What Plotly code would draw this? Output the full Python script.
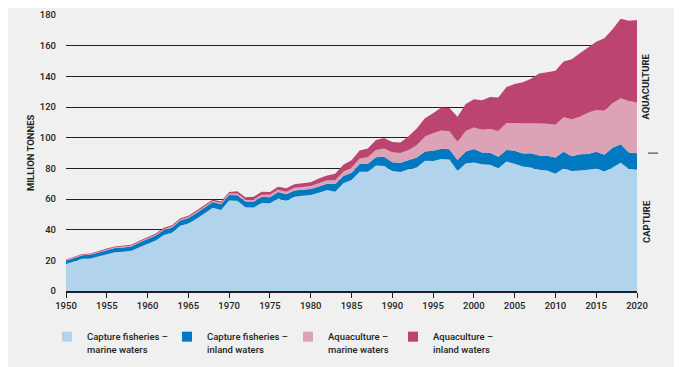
import plotly.graph_objects as go

years = list(range(1950, 2021))

capture_marine = [17.6, 19.3, 21.0, 21.2, 22.7, 24.0, 25.3, 25.6, 26.2, 28.6,
                  30.8, 33.0, 36.5, 38.0, 42.5, 44.0, 47.2, 50.5, 54.3, 52.8,
                  59.0, 58.8, 54.6, 54.4, 57.4, 57.2, 60.4, 58.9, 61.5, 62.2,
                  62.6, 64.1, 65.8, 64.8, 70.2, 72.4, 77.8, 77.8, 81.8, 81.5,
                  78.3, 77.6, 79.4, 80.5, 85.0, 84.8, 86.1, 85.8, 78.5, 83.2,
                  83.8, 82.6, 82.4, 80.0, 84.4, 83.0, 81.2, 80.6, 79.0, 78.6,
                  76.4, 80.0, 78.2, 78.6, 79.0, 80.0, 78.0, 80.6, 83.7, 79.8,
                  79.0]
capture_inland = [2.2, 2.3, 2.3, 2.4, 2.5, 2.6, 2.7, 2.8, 2.8, 3.0,
                  3.0, 3.2, 3.3, 3.4, 3.5, 3.6, 3.7, 3.7, 3.7, 3.8,
                  3.6, 3.7, 3.8, 3.9, 4.0, 4.0, 4.1, 4.2, 4.1, 3.9,
                  3.9, 4.1, 4.2, 5.0, 4.8, 4.8, 5.0, 5.2, 5.4, 6.1,
                  5.7, 6.0, 6.0, 6.5, 6.0, 6.6, 6.7, 6.7, 6.9, 7.8,
                  8.8, 7.8, 7.8, 7.6, 7.6, 8.4, 8.4, 9.2, 9.4, 9.6,
                  10.6, 10.8, 9.6, 10.6, 10.4, 10.8, 10.8, 12.9, 12.0, 10.6,
                  10.9]
aqua_marine = [0.4, 0.4, 0.4, 0.4, 0.5, 0.5, 0.5, 0.5, 0.5, 0.5,
               0.5, 0.5, 0.6, 0.6, 0.6, 0.6, 0.7, 0.7, 0.7, 0.8,
               1.0, 1.1, 1.2, 1.3, 1.4, 1.5, 1.6, 1.7, 1.8, 1.8,
               1.9, 2.1, 2.3, 2.5, 2.8, 3.2, 3.6, 4.2, 4.8, 5.4,
               6.5, 6.4, 6.6, 8.0, 9.7, 11.4, 11.8, 11.7, 12.0, 13.4,
               14.0, 14.8, 15.5, 16.8, 17.6, 18.2, 19.6, 19.6, 21.0, 20.8,
               21.4, 22.5, 24.2, 24.5, 26.9, 27.3, 28.8, 28.9, 30.0, 33.5,
               33.0]
aqua_inland = [0.4, 0.4, 0.4, 0.4, 0.5, 0.6, 0.6, 0.6, 0.6, 0.7,
               0.7, 0.8, 0.8, 0.8, 0.8, 0.8, 0.9, 0.9, 0.9, 0.9,
               1.0, 1.4, 1.6, 1.9, 2.0, 1.9, 1.9, 2.2, 2.2, 2.4,
               2.6, 3.0, 3.1, 4.1, 4.6, 4.8, 5.2, 5.8, 6.4, 6.8,
               6.7, 6.8, 9.0, 11.0, 11.9, 13.2, 15.0, 15.2, 16.3, 17.6,
               18.4, 19.2, 20.9, 21.8, 23.4, 25.4, 27.0, 29.1, 32.4, 33.6,
               35.2, 36.3, 39.1, 41.3, 42.6, 44.5, 47.2, 48.3, 51.9, 52.3,
               53.9]

series_names = ["Capture fisheries –<br>marine waters",
                "Capture fisheries –<br>inland waters",
                "Aquaculture –<br>marine waters",
                "Aquaculture –<br>inland waters"]
colors = ["#B2D3EC", "#0079C0", "#DCA3B6", "#BC4470"]
x_ticks = list(range(1950, 2021, 5))
y_ticks = list(range(0, 181, 20))

FONT = "Roboto, Liberation Sans, sans-serif"
TXT = "#231f20"
W8 = 500

fig = go.Figure()
for vals, color in zip([capture_marine, capture_inland, aqua_marine, aqua_inland], colors):
    fig.add_trace(go.Scatter(x=years, y=vals, stackgroup="one", mode="lines",
                             line=dict(width=0, color=color), fillcolor=color,
                             showlegend=False, hoverinfo="skip"))

legend_ids = ["legend", "legend2", "legend3", "legend4"]
legend_x_px = [47, 167, 288, 393]
for name, color, lid in zip(series_names, colors, legend_ids):
    fig.add_trace(go.Scatter(x=[None], y=[None], mode="markers", name=name,
                             marker=dict(symbol="square", size=10, color=color),
                             legend=lid, showlegend=True))

# page body has an 8px margin: shift the figure so the plot area lands in place
OFF = 8
W, H = 682 - OFF, 367 - OFF
plot_l, plot_r = 66, 637
plot_t, plot_b = 15, 291
plot_w = plot_r - plot_l
plot_h = plot_b - plot_t

legend_font = dict(family=FONT, size=9.5, color=TXT, weight=W8)
leg_common = dict(orientation="h", yanchor="top", xanchor="left",
                  y=-(324 - plot_b) / plot_h,
                  bgcolor="rgba(0,0,0,0)", font=legend_font, valign="top",
                  itemclick=False, itemdoubleclick=False)
layout_legends = {}
for lid, px in zip(legend_ids, legend_x_px):
    layout_legends[lid] = dict(leg_common, x=(px - plot_l) / plot_w)

cap_total = capture_marine[-1] + capture_inland[-1]
aqua_total = aqua_marine[-1] + aqua_inland[-1]

fig.update_layout(
    width=W, height=H,
    margin=dict(l=plot_l - OFF, r=682 - plot_r, t=plot_t - OFF, b=367 - plot_b, autoexpand=False),
    paper_bgcolor="#f0f0f0", plot_bgcolor="#f0f0f0",
    font=dict(family=FONT, size=9.5, color=TXT),
    xaxis=dict(range=[1950, 2020], tickvals=x_ticks, ticktext=[str(v) for v in x_ticks],
               showgrid=False, zeroline=False, showline=True, linecolor="#231f20",
               linewidth=1.5, ticks="outside", ticklen=5, tickwidth=1, tickcolor="#231f20",
               tickfont=dict(family=FONT, size=9.5, color=TXT, weight=W8), fixedrange=True),
    yaxis=dict(range=[0, 180], tickvals=y_ticks, showgrid=True, gridcolor="#231f20",
               gridwidth=1, zeroline=False, showline=False, ticks="",
               ticklabelstandoff=9,
               tickfont=dict(family=FONT, size=9.5, color=TXT, weight=W8), fixedrange=True),
    showlegend=True,
    annotations=[
        dict(text="<b>MILLION TONNES</b>", xref="paper", yref="paper",
             x=(22.5 - plot_l) / plot_w, y=0.5, textangle=-90, showarrow=False,
             font=dict(family=FONT, size=9.5, color=TXT)),
        dict(text="<b>AQUACULTURE</b>", xref="paper", yref="y",
             x=(653.5 - plot_l) / plot_w, y=cap_total + aqua_total / 2, textangle=-90,
             showarrow=False, font=dict(family=FONT, size=9.5, color=TXT)),
        dict(text="<b>CAPTURE</b>", xref="paper", yref="y",
             x=(653.5 - plot_l) / plot_w, y=cap_total / 2, textangle=-90,
             showarrow=False, font=dict(family=FONT, size=9.5, color=TXT)),
    ],
    shapes=[dict(type="line", xref="paper", yref="y",
                 x0=(648 - plot_l) / plot_w, x1=(658 - plot_l) / plot_w,
                 y0=cap_total, y1=cap_total, line=dict(color="#6d6e71", width=1.5))],
    **layout_legends,
)

fig.write_html("out.html", config={"displayModeBar": False})
